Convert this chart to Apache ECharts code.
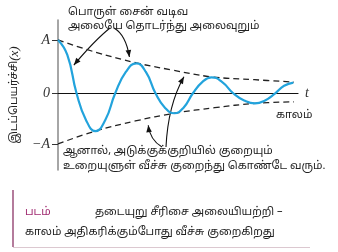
<!DOCTYPE html>
<html>
<head>
<meta charset="utf-8">
<script src="https://cdn.jsdelivr.net/npm/echarts@6/dist/echarts.min.js"></script>
<style>
html,body{margin:0;padding:0;background:#fff;}
#c{width:338px;height:252px;}
</style>
</head>
<body>
<div id="c"></div>
<script>
// ---- data (t in arbitrary time units, displacement in units of A)
const curveT = [0, 0.47, 0.935, 1.41, 1.885, 2.385, 2.885, 3.42, 3.95, 4.43, 4.915, 5.39, 5.865, 6.33, 6.8, 7.27, 7.735, 8.28, 8.835, 9.385, 9.935, 10.44, 10.95, 11.4, 11.865];
const curveY = [1.0, 0.72, 0, -0.5, -0.71, -0.5, 0, 0.4, 0.56, 0.4, 0, -0.27, -0.375, -0.27, 0, 0.21, 0.30, 0.21, 0, -0.135, -0.19, -0.135, 0, 0.14, 0.2];
const upperT = [0, 1.9, 3.95, 5.7, 7.7, 9.9, 11.9];
const upperY = [1.0, 0.77, 0.57, 0.44, 0.31, 0.255, 0.21];
const lowerT = [0, 1.885, 3.9, 5.865, 7.9, 9.935, 11.9];
const lowerY = [-0.95, -0.71, -0.52, -0.375, -0.27, -0.19, -0.16];
const yTickValues = [-0.95, 0, 1];
const yTickLabels = ['−A', '0', 'A'];
const xName = 't';
const yName = 'இடப்பெயர்ச்சி';
const yNameVar = '(x)';
const timeLabel = 'காலம்';
const topNote = ['பொருள் சைன் வடிவ', 'அலையே தொடர்ந்து அலைவுறும்'];
const bottomNote = ['ஆனால், அடுக்குக்குறியில் குறையும்', 'உறையுளுள் வீச்சு குறைந்து கொண்டே வரும்.'];
const captionTag = 'படம்';
const captionLines = ['தடையுறு சீரிசை அலையியற்றி –', 'காலம் அதிகரிக்கும்போது வீச்சு குறைகிறது'];
// arrow tips in data coordinates
const arrowTips = [[0.8, 0.53], [3.6, 0.68], [4.55, -0.6], [6.35, 0.31]];

const zip = (a, b) => a.map((v, i) => [v, b[i]]);
const TF = "'Noto Sans Tamil', 'Noto Sans', 'DejaVu Sans', sans-serif";
const SERIF = "'Liberation Serif', 'DejaVu Serif', serif";

const chart = echarts.init(document.getElementById('c'), null, {renderer: 'canvas'});
const option = {
  animation: false,
  backgroundColor: '#fff',
  grid: {left: 56, right: 40, top: 20, bottom: 82},
  xAxis: {
    type: 'value', min: 0, max: 12.1,
    name: xName, nameLocation: 'end', nameGap: 7,
    nameTextStyle: {fontFamily: SERIF, fontStyle: 'italic', fontSize: 14, color: '#333', verticalAlign: 'middle', padding: [0,0,6,0]},
    axisLine: {onZero: true, lineStyle: {color: '#111', width: 1.2}},
    axisTick: {show: false}, axisLabel: {show: false}, splitLine: {show: false}
  },
  yAxis: {
    type: 'value', min: -1.44, max: 1.375,
    name: '{a|' + yName + '}{b|' + yNameVar + '}',
    nameLocation: 'middle', nameRotate: 90, nameGap: 37,
    nameTextStyle: {rich: {
      a: {fontFamily: TF, fontSize: 11, color: '#222'},
      b: {fontFamily: SERIF, fontStyle: 'italic', fontSize: 13, color: '#222'}
    }},
    axisLine: {show: true, lineStyle: {color: '#888', width: 1.5}},
    axisTick: {show: true, customValues: yTickValues, length: 6, inside: false, lineStyle: {color: '#333', width: 1}},
    axisLabel: {
      customValues: yTickValues, margin: 8,
      fontFamily: SERIF, fontStyle: 'italic', fontSize: 14, color: '#333',
      formatter: v => { const i = yTickValues.findIndex(x => Math.abs(x - v) < 1e-6); return i >= 0 ? yTickLabels[i] : ''; }
    },
    splitLine: {show: false}
  },
  series: [
    {type: 'line', data: zip(upperT, upperY), smooth: 0.4, showSymbol: false,
     lineStyle: {color: '#222', width: 1.3, type: [6, 4]}},
    {type: 'line', data: zip(lowerT, lowerY), smooth: 0.4, showSymbol: false,
     lineStyle: {color: '#222', width: 1.3, type: [6, 4]}},
    {type: 'line', data: zip(curveT, curveY), smooth: 0.5, showSymbol: false,
     lineStyle: {color: '#22a3dc', width: 2.2}}
  ]
};
chart.setOption(option);

// annotations
const tips = arrowTips.map(p => chart.convertToPixel({gridIndex: 0}, p));
const starts = [[110, 28], [114, 28], [162, 147], [166, 147]];
const ctrls = [[95, 40], [126, 35], [150, 140], [168, 105]];
const g = [];
function arrow(p0, c, p1) {
  g.push({type: 'bezierCurve', shape: {x1: p0[0], y1: p0[1], cpx1: c[0], cpy1: c[1], x2: p1[0], y2: p1[1]},
    style: {stroke: '#111', lineWidth: 1.1, fill: null}, silent: true});
  const dx = p1[0] - c[0], dy = p1[1] - c[1], L = Math.hypot(dx, dy) || 1;
  const ux = dx / L, uy = dy / L, len = 7, w = 2.8;
  const bx = p1[0] - ux * len, by = p1[1] - uy * len;
  g.push({type: 'polygon', shape: {points: [[p1[0], p1[1]], [bx - uy * w, by + ux * w], [bx + uy * w, by - ux * w]]},
    style: {fill: '#111'}, silent: true});
}
for (let i = 0; i < 4; i++) arrow(starts[i], ctrls[i], tips[i]);

const txt = (x, y, s, extra) => g.push(Object.assign({type: 'text', x: x, y: y,
  style: Object.assign({text: s, fontFamily: TF, fontSize: 11, fill: '#222', textVerticalAlign: 'middle'}, extra || {}), silent: true}));
txt(68, 13, topNote[0]);
txt(68, 27, topNote[1]);
txt(63, 152, bottomNote[0]);
txt(63, 166.5, bottomNote[1]);
txt(276, 116, timeLabel);
// caption box
g.push({type: 'line', shape: {x1: 13, y1: 190, x2: 13, y2: 247}, style: {stroke: '#8c3566', lineWidth: 1.3}, silent: true});
g.push({type: 'line', shape: {x1: 13, y1: 247.5, x2: 310, y2: 247.5}, style: {stroke: '#dcc8d0', lineWidth: 1}, silent: true});
txt(25, 213, captionTag, {fill: '#a02a70'});
txt(95, 213, captionLines[0]);
txt(25, 233, captionLines[1]);
chart.setOption({graphic: g});
</script>
</body>
</html>
